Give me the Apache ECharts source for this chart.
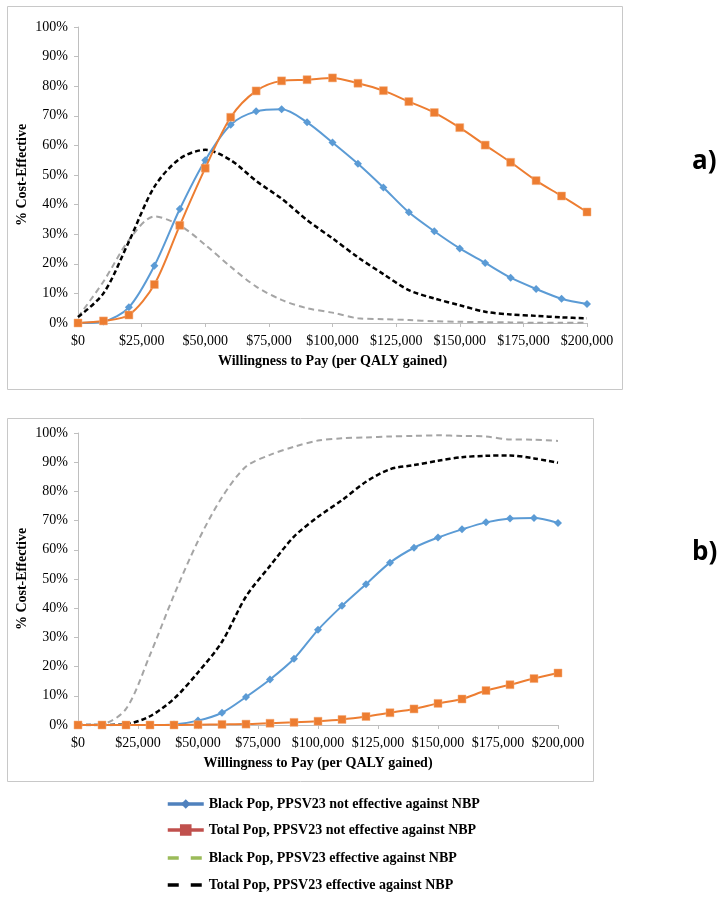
<!DOCTYPE html>
<html>
<head>
<meta charset="utf-8">
<script src="https://cdn.jsdelivr.net/npm/echarts@6/dist/echarts.min.js"></script>
<style>
  html, body { margin: 0; padding: 0; background: #ffffff; }
  #chart { width: 725px; height: 900px; }
</style>
</head>
<body>
<div id="chart"></div>
<script>
// Willingness to pay (x values)
const wtp = [0,10000,20000,30000,40000,50000,60000,70000,80000,90000,100000,
             110000,120000,130000,140000,150000,160000,170000,180000,190000,200000];

const seriesNames = [
  "Black Pop, PPSV23 not effective against NBP",
  "Total Pop, PPSV23 not effective against NBP",
  "Black Pop, PPSV23 effective against NBP",
  "Total Pop, PPSV23 effective against NBP"
];

// Panel a) values (% cost-effective)
const aBlackNotEff = [0,0.5,5.3,19.3,38.5,55,67,71.5,72.2,67.8,61,53.8,45.8,37.4,31,25.2,20.3,15.3,11.5,8.2,6.4];
const aTotalNotEff = [0,0.7,2.7,13,33,52.3,69.5,78.4,81.8,82.2,82.8,81,78.5,74.8,71.1,66,60.1,54.3,48.1,42.9,37.5];
const aBlackEff    = [2,14,28,36,33,26.4,19,12.3,7.8,5,3.5,1.6,1.3,1,0.6,0.4,0.3,0.2,0.1,0.1,0.1];
const aTotalEff    = [2,10,27.5,46,55.5,58.5,55,48,42,34.8,28.6,22.2,16.5,11.1,8.3,6,3.8,2.9,2.4,1.9,1.6];

// Panel b) values (% cost-effective)
const bBlackNotEff = [0,0,0,0,0.2,1.5,4.2,9.6,15.6,22.7,32.6,40.8,48.2,55.6,60.7,64.2,67,69.4,70.7,70.9,69.2];
const bTotalNotEff = [0,0,0,0,0,0.1,0.2,0.3,0.6,0.9,1.3,1.9,2.9,4.2,5.5,7.4,8.9,11.8,13.8,15.9,17.8];
const bBlackEff    = [0,0.3,5.5,24,44.5,63,78,88.5,92.5,95.3,97.4,98.2,98.5,98.8,99,99.2,99,98.8,97.8,97.7,97.3];
const bTotalEff    = [0,0,0.3,3,9,18,28.5,44,54.5,64.5,71.3,77,83.3,87.6,89,90.5,91.7,92.2,92.3,91.3,89.8];

const xTickLabels = ["$0","$25,000","$50,000","$75,000","$100,000","$125,000","$150,000","$175,000","$200,000"];
const yTickSuffix = "%";

const pairs = (vals) => wtp.map((x, i) => [x, vals[i]]);

const serif = "Liberation Serif";
const axisGray = "#bfbfbf";

function xAxisDef(gridIndex) {
  return {
    type: "value", gridIndex, min: 0, max: 200000, interval: 25000,
    name: "Willingness to Pay (per QALY gained)", nameLocation: "middle", nameGap: 31,
    nameTextStyle: { fontFamily: serif, fontWeight: "bold", fontSize: 14, color: "#000" },
    axisLine: { show: true, lineStyle: { color: axisGray, width: 1 } },
    axisTick: { show: true, length: 4, inside: false, lineStyle: { color: axisGray } },
    splitLine: { show: false },
    axisLabel: {
      fontFamily: serif, fontSize: 14, color: "#000", margin: 11,
      formatter: (v) => xTickLabels[Math.round(v / 25000)]
    }
  };
}
function yAxisDef(gridIndex) {
  return {
    type: "value", gridIndex, min: 0, max: 100, interval: 10,
    name: "% Cost-Effective", nameLocation: "middle", nameGap: 49, nameRotate: 90,
    nameMoveOverlap: false,
    nameTextStyle: { fontFamily: serif, fontWeight: "bold", fontSize: 14, color: "#000" },
    axisLine: { show: true, lineStyle: { color: axisGray, width: 1 } },
    axisTick: { show: true, length: 4, lineStyle: { color: axisGray } },
    splitLine: { show: false },
    axisLabel: { fontFamily: serif, fontSize: 14, color: "#000", margin: 10,
                 formatter: (v) => v + yTickSuffix }
  };
}

function makeSeries(idx, vals, name, kind) {
  const base = { name, type: "line", xAxisIndex: idx, yAxisIndex: idx, data: pairs(vals),
                 smooth: 0.3, animation: false };
  if (kind === "blue") {
    return Object.assign(base, { symbol: "diamond", symbolSize: 8, showSymbol: true,
      lineStyle: { color: "#5B9BD5", width: 2 }, itemStyle: { color: "#5B9BD5" }, z: 3 });
  }
  if (kind === "orange") {
    return Object.assign(base, { symbol: "rect", symbolSize: 8, showSymbol: true,
      lineStyle: { color: "#ED7D31", width: 2 }, itemStyle: { color: "#ED7D31", borderColor: "#F4B183", borderWidth: 0.5 }, z: 4 });
  }
  if (kind === "gray") {
    return Object.assign(base, { symbol: "none",
      lineStyle: { color: "#A5A5A5", width: 2, type: [6, 4] }, itemStyle: { color: "#A5A5A5" }, z: 2 });
  }
  return Object.assign(base, { symbol: "none",
    lineStyle: { color: "#000000", width: 2.5, type: [5, 3] }, itemStyle: { color: "#000000" }, z: 2 });
}

// legend styling per entry (legend colours differ from plotted colours in the original)
const legendStyles = [
  { itemStyle: { color: "#4F81BD", borderColor: "#4F81BD" }, lineStyle: { color: "#4F81BD", width: 3.5 } },
  { itemStyle: { color: "#C0504D", borderColor: "#C0504D" }, lineStyle: { color: "#C0504D", width: 3.5 } },
  { itemStyle: { color: "#9BBB59", opacity: 0 }, lineStyle: { color: "#9BBB59", width: 3.5, type: [11, 12], opacity: 1 } },
  { itemStyle: { color: "#000000", opacity: 0 }, lineStyle: { color: "#000000", width: 3.5, type: [11, 12], opacity: 1 } }
];
const legendTops = [797, 823, 851, 878];

const chart = echarts.init(document.getElementById("chart"), null, { renderer: "canvas" });

const option = {
  backgroundColor: "#ffffff",
  animation: false,
  grid: [
    { left: 78, top: 27, width: 509, height: 296 },
    { left: 78, top: 433, width: 480, height: 292 }
  ],
  xAxis: [xAxisDef(0), xAxisDef(1)],
  yAxis: [yAxisDef(0), yAxisDef(1)],
  legend: seriesNames.map((n, i) => ({
    orient: "vertical", left: 166, top: legendTops[i], padding: 0,
    itemWidth: 36, itemHeight: 12, selectedMode: false,
    textStyle: { fontFamily: serif, fontWeight: "bold", fontSize: 14, color: "#000" },
    data: [Object.assign({ name: n }, legendStyles[i])]
  })),
  graphic: [
    { type: "rect", shape: { x: 7.5, y: 6.5, width: 615, height: 383 }, style: { fill: "none", stroke: "#c8c8c8", lineWidth: 1 }, z: -1 },
    { type: "rect", shape: { x: 7.5, y: 418.5, width: 586, height: 363 }, style: { fill: "none", stroke: "#c8c8c8", lineWidth: 1 }, z: -1 },
    { type: "text", left: 692, top: 149, style: { text: "a)", fontFamily: "Open Sans", fontWeight: "bold", fontSize: 26, fill: "#000" } },
    { type: "text", left: 692, top: 540, style: { text: "b)", fontFamily: "Open Sans", fontWeight: "bold", fontSize: 26, fill: "#000" } }
  ],
  series: [
    makeSeries(0, aBlackNotEff, seriesNames[0], "blue"),
    makeSeries(0, aTotalNotEff, seriesNames[1], "orange"),
    makeSeries(0, aBlackEff, seriesNames[2], "gray"),
    makeSeries(0, aTotalEff, seriesNames[3], "black"),
    makeSeries(1, bBlackNotEff, seriesNames[0], "blue"),
    makeSeries(1, bTotalNotEff, seriesNames[1], "orange"),
    makeSeries(1, bBlackEff, seriesNames[2], "gray"),
    makeSeries(1, bTotalEff, seriesNames[3], "black")
  ]
};
chart.setOption(option);
</script>
</body>
</html>
